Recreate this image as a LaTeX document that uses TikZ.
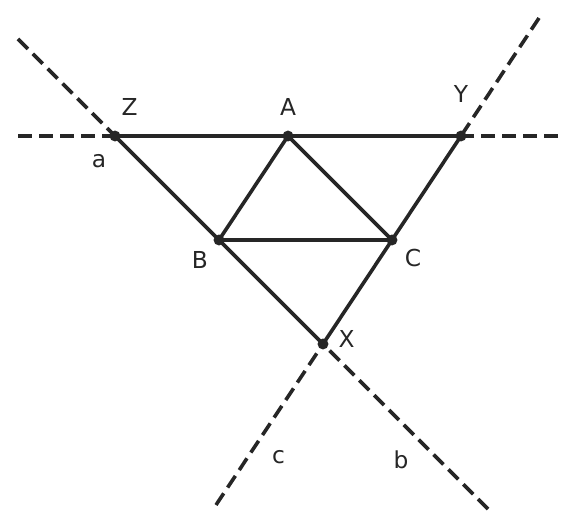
\documentclass[tikz,border=0pt]{standalone}
\usepackage{fontspec}
\setmainfont{DejaVu Sans}
\definecolor{ink}{HTML}{262626}
\begin{document}
\begin{tikzpicture}[x=0.75pt,y=-0.75pt,
  solidline/.style={draw=ink,line width=2.7pt},
  dashline/.style={draw=ink,line width=2.7pt,dash pattern=on 10.5pt off 5.25pt},
  pt/.style={circle,fill=ink,inner sep=0pt,minimum size=8.2pt},
  lbl/.style={anchor=base,text=ink,font=\fontsize{17.5}{20}\selectfont,inner sep=0pt}]
\useasboundingbox (0,0) rectangle (576,528);
% points
\coordinate (Z) at (115,136);
\coordinate (A) at (288,136);
\coordinate (Y) at (461,136);
\coordinate (B) at (219,240);
\coordinate (C) at (392,240);
\coordinate (X) at (323,344);
% free ends
\coordinate (hl) at (18,136);
\coordinate (hr) at (558,136);
\coordinate (al) at (18,39);
\coordinate (ar) at (488,509);
\coordinate (ct) at (539,18);
\coordinate (cb) at (216,505);
% dashed extensions
\draw[dashline] (hl) -- (Z);
\draw[dashline] (hr) -- (Y);
\draw[dashline] (al) -- (Z);
\draw[dashline] (ar) -- (X);
\draw[dashline] (ct) -- (Y);
\draw[dashline] (cb) -- (X);
% solid segments
\draw[solidline] (Z) -- (Y);
\draw[solidline] (Z) -- (X);
\draw[solidline] (Y) -- (X);
\draw[solidline] (B) -- (C);
\draw[solidline] (A) -- (B);
\draw[solidline] (A) -- (C);
% dots
\foreach \p in {Z,A,Y,B,C,X} \node[pt] (d\p) at (\p) {};
% labels
\node[lbl] (lZ) at (129.5,116) {Z};
\node[lbl] (lA) at (288,116) {A};
\node[lbl] (lY) at (461,103) {Y};
\node[lbl] (la) at (99,168) {a};
\node[lbl] (lB) at (200,269) {B};
\node[lbl] (lC) at (413,267) {C};
\node[lbl] (lX) at (346.5,348) {X};
\node[lbl] (lc) at (278.5,463) {c};
\node[lbl] (lb) at (401,468) {b};
\end{tikzpicture}
\end{document}
